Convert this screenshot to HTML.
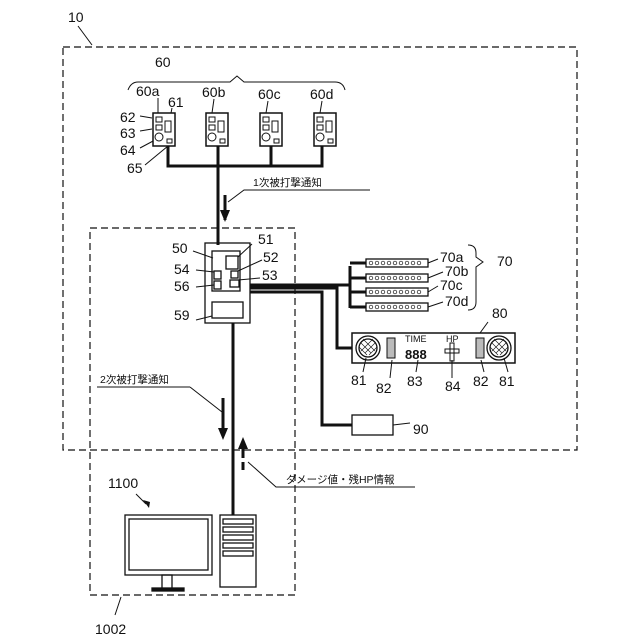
<!DOCTYPE html>
<html><head><meta charset="utf-8"><style>body{margin:0;background:#fff}svg{display:block}text{font-family:"Liberation Sans","Noto Sans CJK JP",sans-serif;fill:#111}</style></head><body>
<svg width="640" height="640" viewBox="0 0 640 640" xmlns="http://www.w3.org/2000/svg" stroke="#111" fill="none">
<g stroke-width="1.2" stroke-dasharray="7,4">
<rect x="63" y="47" width="514" height="403"/>
<rect x="90" y="228" width="205" height="367"/>
</g>
<g font-size="14" stroke="none">
<text x="68" y="22">10</text><text x="95" y="634">1002</text>
<text x="155" y="67">60</text><text x="136" y="96">60a</text><text x="202" y="97">60b</text><text x="258" y="99">60c</text><text x="310" y="99">60d</text>
<text x="168" y="107">61</text><text x="120" y="122">62</text><text x="120" y="138">63</text><text x="120" y="155">64</text><text x="127" y="173">65</text>
<text x="172" y="253">50</text><text x="258" y="244">51</text><text x="263" y="262">52</text><text x="262" y="280">53</text><text x="174" y="274">54</text><text x="174" y="291">56</text><text x="174" y="320">59</text>
<text x="440" y="262">70a</text><text x="445" y="276">70b</text><text x="440" y="290">70c</text><text x="445" y="306">70d</text><text x="497" y="266">70</text>
<text x="492" y="318">80</text><text x="351" y="385">81</text><text x="376" y="393">82</text><text x="407" y="386">83</text><text x="445" y="391">84</text><text x="473" y="386">82</text><text x="499" y="386">81</text>
<text x="413" y="434">90</text><text x="108" y="488">1100</text>
</g>
<g font-size="10.5" stroke="none"><text x="253" y="186">1次被打撃通知</text><text x="100" y="383">2次被打撃通知</text><text x="286" y="483">ダメージ値・残HP情報</text></g>
<g stroke-width="1">
<path d="M78 26 L92 45M128 90 q3-8 10-8 H230 l7-6 l7 6 H335 q8 0 10 8M121 597 L115 615"/>
<path d="M140 116 L152 118M140 131 L152 129M140 148 L155 140M145 165 L168 146M158 98 L158 113M172 108 L170 118M214 99 L212 113M268 101 L266 113M322 101 L320 113"/>
<path d="M228 202 L244 190 H370M190 387 L222 412M97 387 H190M248 462 L276 487 H415"/>
<path d="M193 251 L213 258M252 244 L238 257M262 260 L238 271M260 278 L238 280M196 270 L214 272M196 287 L214 285M196 320 L212 316"/>
<path d="M428 263 L438 259M428 278 L443 272M428 292 L438 286M428 307 L443 302"/>
<path d="M468 245 q8 0 8 8 v4 l7 5 l-7 5 v35 q0 8-8 8"/>
<path d="M488 322 L480 333M363 372 L366 358M390 378 L392 360M416 372 L418 360M452 378 L452 360M484 372 L481 360M508 372 L504 358M393 425 L410 423"/>
<path d="M136 494 L146 504"/>
</g>
<path d="M143 500 L149 508 L150 502Z" fill="#111" stroke="none"/>
<g stroke-width="3">
<path d="M168 143 V166 H322 V143M218 166 V143M271 166 V143M218 166 V245"/>
<path d="M250 285 H350M250 288 H337 V348 H352M250 292 H322 V425 H352M350 266 V308M350 263 H366M350 278 H366M350 292 H366M350 307 H366"/>
<path d="M233 323 V515"/>
<path d="M225 195 V220M223 398 V432M243 448 V458"/>
<path d="M243 462 V470" />
</g>
<path d="M225 222 l-5-12 h10z M223 440 l-5-12 h10z M243 437 l-5 12 h10z" fill="#111" stroke="none"/>
<g stroke-width="1.5" fill="#fff">
<rect x="153" y="113" width="22" height="33"/><rect x="206" y="113" width="22" height="33"/><rect x="260" y="113" width="22" height="33"/><rect x="314" y="113" width="22" height="33"/>
</g>
<g stroke-width="1">
<g id="s"><rect x="156" y="117" width="6" height="5"/><rect x="156" y="125" width="6" height="5"/><rect x="165" y="121" width="6" height="11"/><circle cx="159" cy="137" r="4"/><rect x="167" y="139" width="5" height="4"/></g>
<use href="#s" x="53"/><use href="#s" x="107"/><use href="#s" x="161"/>
</g>
<g stroke-width="1.3">
<rect x="205" y="243" width="45" height="80"/><rect x="212" y="251" width="28" height="40"/><rect x="226" y="256" width="12" height="13"/>
<rect x="214" y="271" width="7" height="8"/><rect x="231" y="271" width="7" height="7"/><rect x="214" y="281" width="7" height="8"/><rect x="230" y="280" width="9" height="7"/>
<rect x="212" y="302" width="31" height="16"/>
</g>
<g stroke-width="1.3"><rect x="366" y="259" width="62" height="8"/><rect x="366" y="274" width="62" height="8"/><rect x="366" y="288" width="62" height="8"/><rect x="366" y="303" width="62" height="8"/></g>
<g stroke-width="0.7" fill="#fff">
<g id="dots"><circle cx="371" cy="263" r="1.8"/><circle cx="377" cy="263" r="1.8"/><circle cx="383" cy="263" r="1.8"/><circle cx="389" cy="263" r="1.8"/><circle cx="395" cy="263" r="1.8"/><circle cx="401" cy="263" r="1.8"/><circle cx="407" cy="263" r="1.8"/><circle cx="413" cy="263" r="1.8"/><circle cx="419" cy="263" r="1.8"/></g>
<use href="#dots" y="15"/><use href="#dots" y="29"/><use href="#dots" y="44"/>
</g>
<rect x="352" y="333" width="163" height="30" stroke-width="1.5"/>
<g stroke-width="1.3"><circle cx="368" cy="348" r="12"/><circle cx="368" cy="348" r="9"/><circle cx="499" cy="348" r="12"/><circle cx="499" cy="348" r="9"/></g>
<g stroke-width="0.6"><path d="M361 343 l10 10M363 339 l12 12M359 347 l8 8M375 343 l-10 10M373 339 l-12 12M377 347 l-8 8"/><path d="M492 343 l10 10M494 339 l12 12M490 347 l8 8M506 343 l-10 10M504 339 l-12 12M508 347 l-8 8"/></g>
<rect x="387" y="338" width="8" height="20" fill="#bbb" stroke-width="1"/><rect x="476" y="338" width="8" height="20" fill="#bbb" stroke-width="1"/>
<g stroke="none" font-size="9"><text x="405" y="342">TIME</text><text x="446" y="342">HP</text><text x="405" y="359" font-size="13" font-weight="bold">888</text></g>
<g stroke-width="1"><rect x="450" y="343" width="4" height="18"/><rect x="445" y="349" width="14" height="4"/></g>
<rect x="352" y="415" width="41" height="20" stroke-width="1.3"/>
<g stroke-width="1.3">
<rect x="125" y="515" width="87" height="60"/><rect x="129" y="519" width="79" height="51"/>
<rect x="162" y="575" width="10" height="14"/><rect x="152" y="588" width="32" height="3" fill="#111"/>
<rect x="220" y="515" width="36" height="72" fill="#fff"/>
<rect x="223" y="519" width="30" height="5"/><rect x="223" y="527" width="30" height="5"/><rect x="223" y="535" width="30" height="5"/><rect x="223" y="543" width="30" height="5"/><rect x="223" y="551" width="30" height="5"/>
</g>
</svg>
</body></html>
